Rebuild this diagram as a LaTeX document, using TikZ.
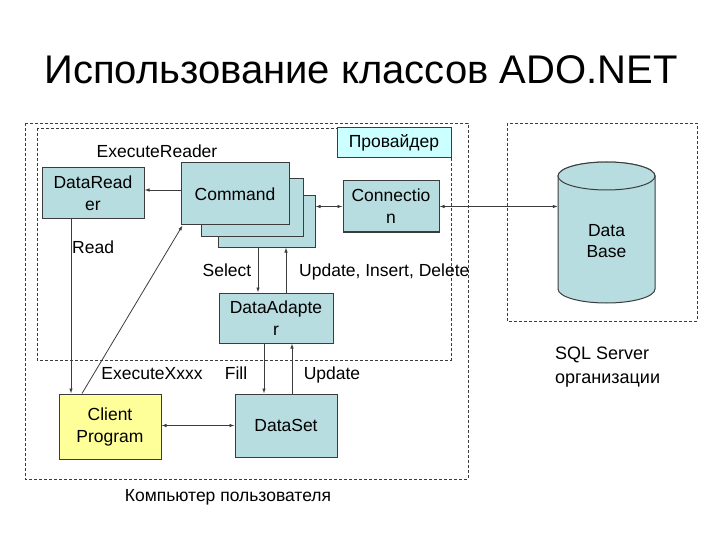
\documentclass[tikz,border=0pt]{standalone}
\usepackage{fontspec}
\setmainfont{Liberation Sans}
\usetikzlibrary{arrows.meta}
\definecolor{boxteal}{RGB}{183,221,224}
\definecolor{provcyan}{RGB}{204,255,255}
\definecolor{clientyellow}{RGB}{255,255,153}
\definecolor{edgegray}{RGB}{60,60,60}

\begin{document}
\begin{tikzpicture}[x=1pt,y=-1pt,
    box/.style={draw=edgegray,line width=1pt,fill=boxteal,align=center,inner sep=0pt,font=\fontsize{17.5}{22}\selectfont},
    lbl/.style={inner sep=0pt,text height=12.5pt,text depth=3.5pt,font=\fontsize{17.5}{22}\selectfont},
    link/.style={draw=edgegray,line width=0.8pt,-{Latex[length=5pt,width=3.5pt]}},
    twoway/.style={link,{Latex[length=5pt,width=3.5pt]}-{Latex[length=5pt,width=3.5pt]}},
    frame/.style={draw=edgegray,line width=0.8pt,dash pattern=on 3pt off 2pt}]
    \useasboundingbox (0,0) rectangle (720,540);
    \node (title) at (361,70) {\fontsize{40}{44}\selectfont Использование классов ADO.NET};
    \draw[frame] (25,123) rectangle (468,479);
    \draw[frame] (37,128) rectangle (451,360);
    \draw[frame] (507,123) rectangle (697,321);
    \node[box,fill=provcyan,minimum width=114pt,minimum height=30pt] (prov) at (394,143) {Провайдер};
    \node[box,minimum width=102pt,minimum height=51pt] (reader) at (93,193.5) {DataRead\\er};
    \node[box,minimum width=97pt,minimum height=51pt] (cmdc) at (266.5,221.5) {};
    \node[box,minimum width=102pt,minimum height=57pt] (cmdb) at (252,207.5) {};
    \node[box,minimum width=108pt,minimum height=62pt] (cmd) at (235,194) {Command};
    \node[box,minimum width=96pt,minimum height=51pt] (conn) at (391,206.5) {Connectio\\n};
    \node[box,minimum width=114pt,minimum height=50pt] (adapter) at (276,318) {DataAdapte\\r};
    \node[box,fill=clientyellow,minimum width=102pt,minimum height=65pt] (client) at (110,426.5) {Client\\Program};
    \node[box,minimum width=102pt,minimum height=63pt] (dataset) at (286,425.5) {DataSet};
    \draw[draw=edgegray,line width=1pt,fill=boxteal] (558,176) -- (558,289)
        arc[start angle=180,end angle=360,x radius=48.5pt,y radius=14pt] -- (655,176)
        arc[start angle=0,end angle=180,x radius=48.5pt,y radius=14pt] -- cycle;
    \draw[draw=edgegray,line width=1pt,fill=boxteal] (606.5,176) ellipse[x radius=48.5pt,y radius=14pt];
    \node[align=center,inner sep=0pt,minimum width=97pt,font=\fontsize{17.5}{21}\selectfont] (db) at (606.5,241.5) {Data\\Base};
    \draw[link] (cmd.west) ++(0,-4) -- ([yshift=4pt]cmd.west -| reader.east);
    \draw[twoway] (conn.west -| cmdc.east) -- (conn.west);
    \draw[twoway] (conn.east) -- (conn.east -| db.west);
    \draw[link] ([xshift=-18pt]adapter.north |- cmdc.south) -- ([xshift=-18pt]adapter.north);
    \draw[link] ([xshift=10pt]adapter.north) -- ([xshift=10pt]adapter.north |- cmdc.south);
    \draw[link] ([xshift=-12pt]adapter.south) -- ([xshift=-12pt]adapter.south |- dataset.north);
    \draw[link] ([xshift=6pt]dataset.north) -- ([xshift=6pt]dataset.north |- adapter.south);
    \draw[link] ([xshift=-22pt]reader.south) -- ([xshift=-22pt]reader.south |- client.north);
    \draw[link] ([xshift=-28pt]client.north) -- ([xshift=2pt]cmd.south west);
    \draw[twoway] (dataset.west -| client.east) -- (dataset.west);
    \node[lbl] (lexecreader) at (157,153) {ExecuteReader};
    \node[lbl,anchor=west] (lread) at (72,249) {Read};
    \node[lbl] (lselect) at (227,272) {Select};
    \node[lbl,anchor=west] (lupdins) at (299,272) {Update, Insert, Delete};
    \node[lbl] (lexecxxxx) at (152,375) {ExecuteXxxx};
    \node[lbl] (lfill) at (236,375) {Fill};
    \node[lbl] (lupdate) at (332,375) {Update};
    \node[lbl] (luser) at (228,497) {Компьютер пользователя};
    \node[lbl,anchor=west,align=left,text height=,text depth=,font=\fontsize{18}{24}\selectfont] (lsql) at (555,367) {SQL Server\\организации};
\end{tikzpicture}
\end{document}
